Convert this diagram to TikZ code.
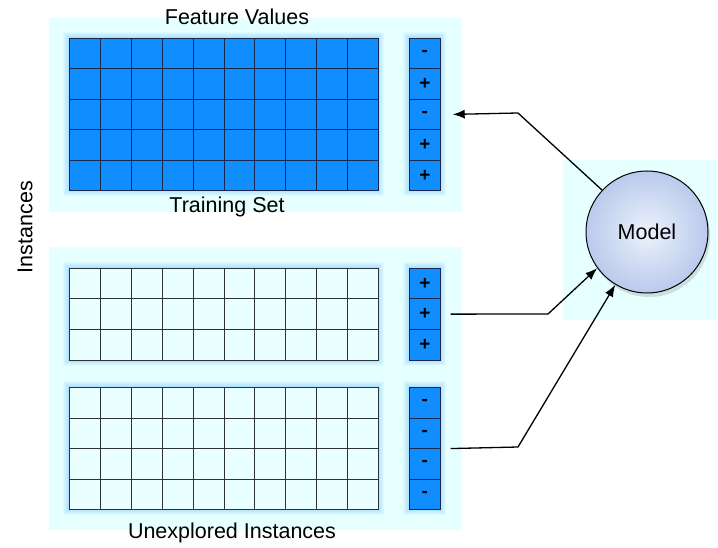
\documentclass[tikz,border=0pt]{standalone}
\usepackage{fontspec}
\setmainfont{Liberation Sans}
\usetikzlibrary{arrows.meta,shadows}

\definecolor{cellblue}{RGB}{16,142,255}
\definecolor{cellpale}{RGB}{234,255,255}
\definecolor{panelbg}{RGB}{230,255,255}
\definecolor{navyline}{RGB}{20,40,80}
\definecolor{grayline}{RGB}{45,50,55}
\definecolor{modelrim}{RGB}{186,202,236}
\definecolor{modelcore}{RGB}{236,242,252}

\begin{document}
\begin{tikzpicture}[x=1pt, y=-1pt, >={Latex[length=12pt,width=9pt]},
    font=\fontsize{21.5}{24}\selectfont,
    cell/.style={rectangle, line width=0.8pt, minimum width=30.9pt,
      minimum height=30.5pt, inner sep=0pt, anchor=north west},
    hot/.style={cell, draw=navyline, fill=cellblue},
    cold/.style={cell, draw=grayline, fill=cellpale},
    sign/.style={hot, font=\fontsize{19}{19}\selectfont\bfseries},
    link/.style={->, line width=1.3pt}]
    \useasboundingbox (0,0) rectangle (718,548);
    % panels
    \fill[panelbg] (49,18) rectangle (462,212);
    \fill[panelbg] (49,247) rectangle (462,530);
    \fill[panelbg] (563,160) rectangle (718,320);
    % glow round the tables
    \foreach \gx/\gy/\gw/\gh in {69/38/309/152.5, 409/38/31/152.5,
        69/268/309/91.5, 409/268/31/91.5, 69/387/309/122, 409/387/31/122}
      \foreach \g in {1,...,6}
        \draw[cellblue, opacity=.045, line width={2*\g}] (\gx,\gy) rectangle ++(\gw,\gh);
    % training set
    \foreach \r in {1,...,5}
      \foreach \c in {1,...,10}
        \node[hot] (t\r-\c) at ({69+(\c-1)*30.9},{38+(\r-1)*30.5}) {};
    \foreach \s [count=\r] in {-,+,-,+,+}
      \node[sign] (tl\r) at (409,{38+(\r-1)*30.5}) {\s};
    % unexplored instances
    \foreach \r in {1,...,3}
      \foreach \c in {1,...,10}
        \node[cold] (m\r-\c) at ({69+(\c-1)*30.9},{268+(\r-1)*30.5}) {};
    \foreach \s [count=\r] in {+,+,+}
      \node[sign] (ml\r) at (409,{268+(\r-1)*30.5}) {\s};
    \foreach \r in {1,...,4}
      \foreach \c in {1,...,10}
        \node[cold] (b\r-\c) at ({69+(\c-1)*30.9},{387+(\r-1)*30.5}) {};
    \foreach \s [count=\r] in {-,-,-,-}
      \node[sign] (bl\r) at (409,{387+(\r-1)*30.5}) {\s};
    % labels
    \node (feat) at (237,17) {Feature Values};
    \node (train) at (227,207) {Training Set};
    \node (unexp) at (232,533) {Unexplored Instances};
    \node[rotate=90] (inst) at (25,227) {Instances};
    % model
    \node[circle, draw, line width=1pt, minimum size=122pt,
      inner color=modelcore, outer color=modelrim,
      drop shadow={shadow xshift=2pt, shadow yshift=-4pt, opacity=.25}]
      (model) at (647,232) {Model};
    % connectors
    \coordinate (k1) at (518,113);
    \coordinate (k2) at (548,314);
    \coordinate (k3) at (518,447);
    \draw[link, shorten >=12pt] (model.137) -- (k1) -- (tl3.east);
    \draw[link, shorten <=10pt] (ml2.east) -- (k2) -- (model.216);
    \draw[link, shorten <=10pt] (bl2.south east) -- (k3) -- (model.239);
\end{tikzpicture}
\end{document}
